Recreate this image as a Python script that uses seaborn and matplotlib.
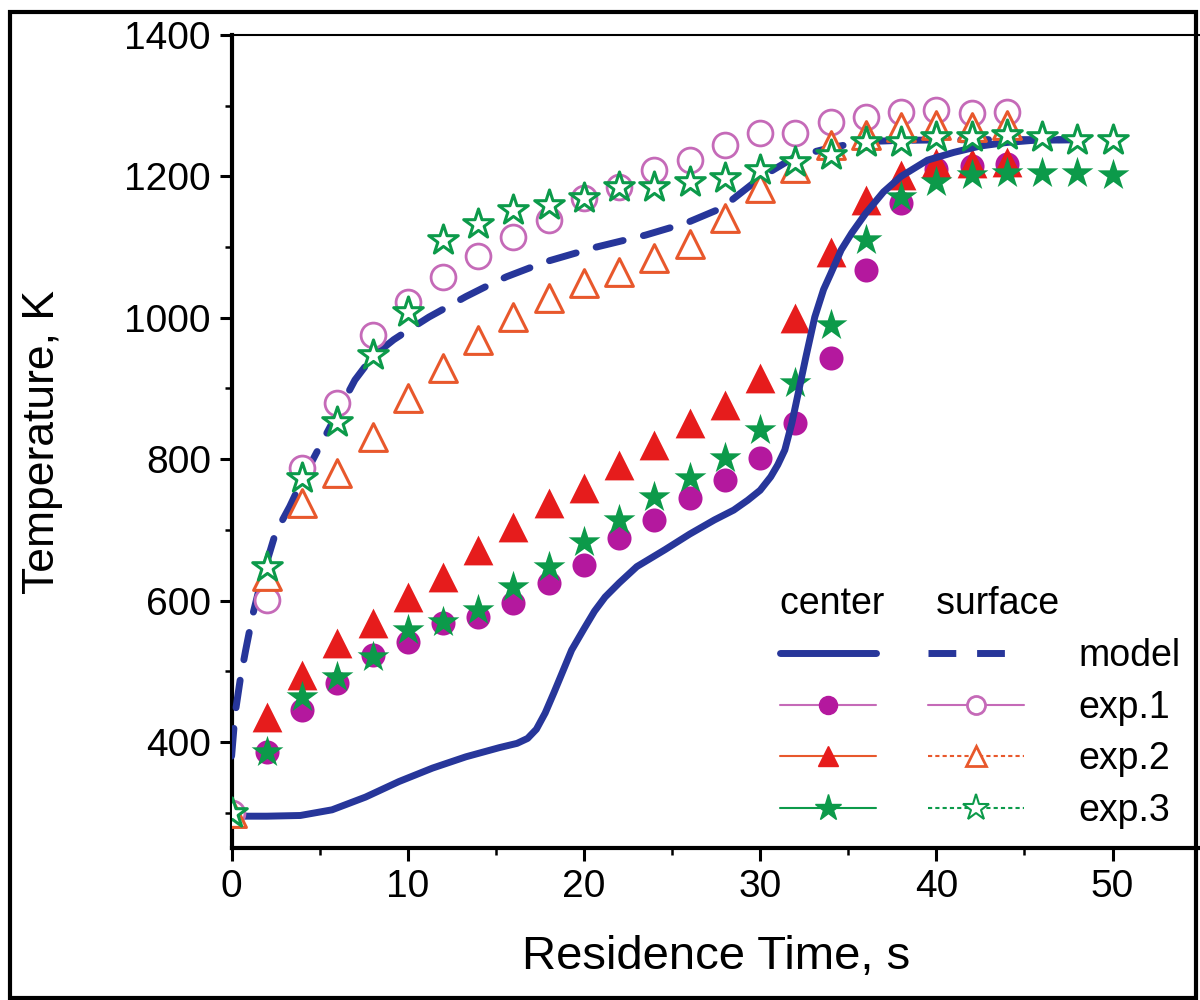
import numpy as np
import pandas as pd
import matplotlib
matplotlib.use("Agg")
import matplotlib.pyplot as plt
import seaborn as sns
from matplotlib.lines import Line2D
from matplotlib.legend_handler import HandlerTuple
from matplotlib.patches import Rectangle
from matplotlib.ticker import MultipleLocator

# --- data ---
t_short = np.arange(0, 46, 2)   # 0..44 s
t_long = np.arange(0, 52, 2)    # 0..50 s

center_exp1 = [300, 386, 445, 484, 523, 542, 568, 577, 597, 625, 650, 689, 714, 745,
               771, 802, 851, 943, 1068, 1162, 1210, 1215, 1218]
center_exp2 = [300, 436, 495, 540, 568, 605, 634, 672, 704, 738, 759, 792, 820, 851,
               877, 915, 1000, 1093, 1167, 1202, 1219, 1219, 1220]
center_exp3 = [300, 386, 464, 492, 520, 558, 570, 587, 619, 648, 683, 714, 747, 773,
               802, 841, 908, 990, 1110, 1171, 1192, 1202, 1205, 1205, 1205, 1202]

surface_exp1 = [300, 601, 788, 879, 975, 1022, 1058, 1087, 1114, 1139, 1169, 1185, 1209,
                1223, 1244, 1261, 1261, 1277, 1284, 1291, 1294, 1290, 1291]
surface_exp2 = [300, 635, 738, 781, 831, 887, 929, 969, 1001, 1028, 1049, 1065, 1085,
                1104, 1141, 1184, 1212, 1244, 1259, 1270, 1273, 1270, 1273]
surface_exp3 = [300, 648, 773, 853, 947, 1008, 1110, 1132, 1152, 1160, 1169, 1185, 1185,
                1192, 1198, 1209, 1220, 1230, 1249, 1249, 1256, 1256, 1259, 1256, 1251, 1251]

# model curves
model_center_t = [0, 2, 3.9, 5.7, 7.6, 9.5, 11.4, 13.3, 15.2, 16.2, 16.8, 17.3, 17.8, 18.3,
                  18.8, 19.3, 20.0, 20.6, 21.2, 22.0, 23.0, 24.6, 26.0, 27.4, 28.5, 29.3,
                  30.0, 30.6, 31.0, 31.4, 31.8, 32.2, 32.6, 33.1, 33.6, 34.0, 34.6, 35.2,
                  36.0, 37.0, 38.0, 39.5, 41.0, 42.5, 44.0, 45.5, 48.3]
model_center_T = [295, 295, 296, 304, 322, 344, 363, 379, 392, 398, 405, 418, 441, 470,
                  500, 530, 560, 585, 605, 625, 648, 672, 694, 714, 728, 742,
                  756, 775, 792, 813, 851, 898, 945, 1001, 1040, 1062, 1096, 1120,
                  1148, 1178, 1200, 1223, 1234, 1243, 1248, 1251, 1252]

model_surface_t = [0, 0.2, 0.5, 0.8, 1.2, 1.7, 2.5, 3.3, 4.0, 4.9, 6.0, 7.0, 8.0, 9.2,
                   10.0, 11.2, 12.0, 13.3, 14.5, 15.6, 17.8, 20.7, 23.5, 25.8, 27.8,
                   30.0, 32.0, 33.9, 35.8, 38.0, 42.0, 48.4]
model_surface_T = [380, 440, 490, 530, 580, 630, 696, 733, 770, 813, 865, 912, 945, 969,
                   982, 1001, 1012, 1030, 1045, 1058, 1079, 1100, 1117, 1134, 1155,
                   1198, 1228, 1240, 1249, 1251, 1252, 1252]

# colours
blue = "#27369a"
mag = "#b4189e"
mag_open = "#c56ab8"
red = "#e61c1c"
red_open = "#e8582c"
green = "#0c9a4a"

sns.set_style("ticks")
plt.rcParams["font.family"] = ["Liberation Sans", "DejaVu Sans"]
plt.rcParams["text.color"] = "black"
plt.rcParams["axes.labelcolor"] = "black"
plt.rcParams["xtick.color"] = "black"
plt.rcParams["ytick.color"] = "black"
plt.rcParams["axes.edgecolor"] = "black"

fig = plt.figure(figsize=(12, 10), dpi=100)
ax = fig.add_axes([0.193, 0.152, 0.8075, 0.813])

# filled (center) markers
sns.scatterplot(x=t_short, y=center_exp1, marker="o", s=300, color=mag, edgecolor=mag,
                linewidth=0, ax=ax, zorder=3)
sns.scatterplot(x=t_short, y=center_exp2, marker="^", s=460, color=red, edgecolor=red,
                linewidth=0, ax=ax, zorder=3)
sns.scatterplot(x=t_long, y=center_exp3, marker="*", s=580, color=green, edgecolor=green,
                linewidth=0, ax=ax, zorder=3)

# model lines
sns.lineplot(x=model_center_t, y=model_center_T, color=blue, linewidth=5, ax=ax,
             sort=False, zorder=4)
sns.lineplot(x=model_surface_t, y=model_surface_T, color=blue, linewidth=5, ax=ax,
             sort=False, linestyle=(0, (4, 3)), dash_capstyle="round", zorder=4)

# open (surface) markers
sns.scatterplot(x=t_short, y=surface_exp1, marker="o", s=320, facecolor="white",
                edgecolor=mag_open, linewidth=2, ax=ax, zorder=5)
sns.scatterplot(x=t_short, y=surface_exp2, marker="^", s=400, facecolor="white",
                edgecolor=red_open, linewidth=2.2, ax=ax, zorder=5)
sns.scatterplot(x=t_long, y=surface_exp3, marker="*", s=500, facecolor="white",
                edgecolor=green, linewidth=2.2, ax=ax, zorder=6)

ax.set_xlim(0, 55)
ax.set_ylim(250, 1400)
ax.xaxis.set_major_locator(MultipleLocator(10))
ax.xaxis.set_minor_locator(MultipleLocator(5))
ax.yaxis.set_major_locator(MultipleLocator(200))
ax.yaxis.set_minor_locator(MultipleLocator(100))
ax.set_xticks([0, 10, 20, 30, 40, 50])
ax.tick_params(which="major", direction="out", length=9, width=2.2, labelsize=28, pad=6,
               top=False, right=False)
ax.tick_params(which="minor", direction="out", length=5, width=1.8, top=False, right=False)
for side in ["left", "bottom"]:
    ax.spines[side].set_linewidth(3)
for side in ["top", "right"]:
    ax.spines[side].set_linewidth(1.5)
ax.set_xlabel("Residence Time, s", fontsize=34, labelpad=22)
ax.set_ylabel("Temperature, K", fontsize=32, labelpad=44)

# legend: center / surface columns
h_model = (Line2D([], [], color=blue, lw=5),
           Line2D([], [], color=blue, lw=5, ls=(0, (4, 3))))
h1 = (Line2D([], [], color=mag_open, lw=1.5, marker="o", ms=13, mfc=mag, mec=mag),
      Line2D([], [], color=mag_open, lw=1.5, marker="o", ms=13, mfc="white", mec=mag_open, mew=2))
h2 = (Line2D([], [], color=red_open, lw=1.5, marker="^", ms=15, mfc=red, mec=red),
      Line2D([], [], color=red_open, lw=1.5, ls=(0, (2, 1.5)), marker="^", ms=15,
             mfc="white", mec=red_open, mew=2))
h3 = (Line2D([], [], color=green, lw=1.5, marker="*", ms=20, mfc=green, mec=green),
      Line2D([], [], color=green, lw=1.5, ls=(0, (2, 1.5)), marker="*", ms=20,
             mfc="white", mec=green, mew=1.5))
leg = ax.legend([h_model, h1, h2, h3], ["model", "exp.1", "exp.2", "exp.3"],
                handler_map={tuple: HandlerTuple(ndivide=None, pad=1.4)},
                handlelength=6.5, handletextpad=1.45, labelspacing=0.42,
                fontsize=27, title="center     surface", title_fontsize=27,
                alignment="left", frameon=False, loc="upper left",
                bbox_to_anchor=(0.566, 0.322), borderpad=0, borderaxespad=0)

# outer frame of the picture
fig.patches.append(Rectangle((0.008, 0.002), 0.989, 0.986, transform=fig.transFigure,
                             fill=False, edgecolor="black", linewidth=3))

fig.savefig("out.png", dpi=100)
